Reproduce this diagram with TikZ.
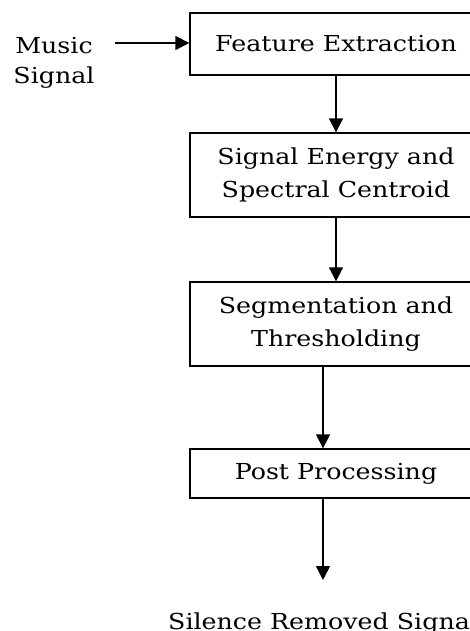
\documentclass[tikz,border=0pt]{standalone}
\usepackage{fontspec}
\setmainfont{DejaVu Serif}[FakeStretch=1.15]
\usetikzlibrary{arrows.meta}
\begin{document}
\begin{tikzpicture}[x=1pt,y=-1pt,
  stepbox/.style={draw=black,line width=1.4pt,fill=white,minimum width=292pt,inner sep=0pt,align=center,
    font=\fontsize{22}{33}\selectfont},
  flow/.style={line width=1.6pt,-{Triangle[length=14pt,width=14pt]}},
  lbl/.style={inner sep=0pt,align=center,font=\fontsize{22}{30}\selectfont}]
\useasboundingbox (0,0) rectangle (470,631);
\clip (0,0) rectangle (470,631);
\fill[white] (0,0) rectangle (470,631);
% music signal input
\fill[white] (0,20) rectangle (113,103);
\node[lbl] (ms) at (54,63) {Music\\Signal};
\coordinate (msr) at (115,43);
% boxes
\node[stepbox,minimum height=62pt] (b1) at (336,44) {Feature Extraction};
\node[stepbox,minimum height=84pt] (b2) at (336,175) {Signal Energy and\\Spectral Centroid};
\node[stepbox,minimum height=84pt] (b3) at (336,324) {Segmentation and\\Thresholding};
\node[stepbox,minimum height=49pt] (b4) at (336,473.5) {Post Processing};
% output
\fill[white] (46,597) rectangle (470,631);
\coordinate (outend) at (323,580);
\node[lbl,anchor=base west] (outtxt) at (168,629) {Silence Removed Signal};
% connectors
\draw[flow] (msr) -- (b1.west |- msr);
\draw[flow] (b1.south) -- (b2.north);
\draw[flow] (b2.south) -- (b3.north);
\draw[flow] ([xshift=-13pt]b3.south) -- ([xshift=-13pt]b4.north);
\draw[flow] ([xshift=-13pt]b4.south) -- (outend);
\end{tikzpicture}
\end{document}
